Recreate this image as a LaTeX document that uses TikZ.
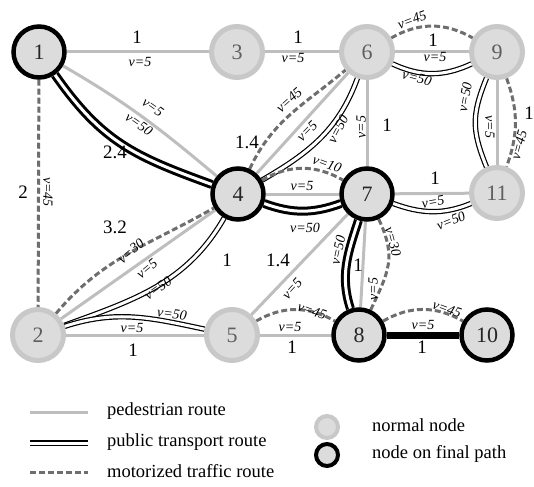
\documentclass[tikz,border=0pt]{standalone}
\usepackage{fontspec}
\setmainfont{Liberation Serif}
\usepackage{tikz}
\usetikzlibrary{backgrounds}
\definecolor{nodefill}{RGB}{220,220,220}
\definecolor{nodering}{RGB}{200,200,200}
\definecolor{pedgray}{RGB}{190,190,190}
\definecolor{motorgray}{RGB}{110,110,110}
\definecolor{numgray}{RGB}{95,95,95}

\begin{document}
\begin{tikzpicture}[x=1pt, y=1pt]
	\tikzstyle{every node} = [inner sep = 0pt]
	\tikzstyle{normalnode} = [circle, draw = nodering, fill = nodefill, line width = 5pt, minimum size = 51pt, text = numgray, font = \fontsize{22}{22}\selectfont]
	\tikzstyle{finalnode} = [normalnode, draw = black, line width = 4.5pt, text = black!85]
	\tikzstyle{ped} = [draw = pedgray, line width = 3pt]
	\tikzstyle{pedfinal} = [draw = black, line width = 7pt]
	\tikzstyle{transit} = [draw = black, line width = 1.2pt, double = white, double distance = 3pt]
	\tikzstyle{transitfinal} = [draw = black, line width = 3pt, double = white, double distance = 3pt]
	\tikzstyle{motor} = [draw = motorgray, line width = 3pt, dash pattern = on 6pt off 3pt]
	\tikzstyle{wlab} = [font = \fontsize{19}{19}\selectfont]
	\tikzstyle{vlab} = [font = \fontsize{14}{14}\selectfont\itshape]
	\tikzstyle{leglab} = [anchor = west, font = \fontsize{18.5}{18.5}\selectfont]
	\useasboundingbox (0,0) rectangle (534,-486);
\node[finalnode] (1) at (39,-52) {1};
\node[normalnode] (3) at (237,-52) {3};
\node[normalnode] (6) at (367,-52) {6};
\node[normalnode] (9) at (497,-52) {9};
\node[finalnode] (4) at (238,-194) {4};
\node[finalnode] (7) at (367,-194) {7};
\node[normalnode] (11) at (497,-193) {11};
\node[normalnode] (2) at (38,-335) {2};
\node[normalnode] (5) at (232,-335) {5};
\node[finalnode] (8) at (359,-335) {8};
\node[finalnode] (10) at (487,-335) {10};
	\begin{pgfonlayer}{background}
	% pedestrian
	\path[ped] (1) -- (3);
	\path[ped] (3) -- (6);
	\path[ped] (6) -- (9);
	\path[ped] (1) to[out=-30, in=140] (4);
	\path[ped] (4) -- (6);
	\path[ped] (6) -- (7);
	\path[ped] (9) -- (11);
	\path[ped] (4) -- (7);
	\path[ped] (7) -- (11);
	\path[ped] (7) -- (8);
	\path[ped] (2) -- (4);
	\path[ped] (5) -- (7);
	\path[ped] (2) -- (5);
	\path[ped] (5) -- (8);
	\path[pedfinal] (8) -- (10);
	% public transport
	\path[transitfinal] (1) to[out=-55, in=160, looseness=1.1] (4);
	\path[transit] (4) to[out=30, in=-110] (6);
	\path[transit] (6) to[out=-25, in=-155] (9);
	\path[transit] (9) to[out=-112, in=112, looseness=1.15] (11);
	\path[transitfinal] (4) to[out=-20, in=-160] (7);
	\path[transit] (7) to[out=-20, in=-158] (11);
	\path[transitfinal] (7) to[out=-108, in=108] (8);
	\path[transit] (2) to[out=20, in=-120] (4);
	\path[transit] (2) to[out=18, in=168] (5);
	% motorized
	\path[motor] (1) -- (2);
	\path[motor] (4) to[out=65, in=-140] (6);
	\path[motor] (6) to[out=30, in=150] (9);
	\path[motor] (9) to[out=-70, in=70] (11);
	\path[motor] (4) to[out=30, in=150] (7);
	\path[motor] (7) to[out=-65, in=65, looseness=1.2] (8);
	\path[motor] (2) to[out=50, in=-150] (4);
	\path[motor] (5) to[out=30, in=150] (8);
	\path[motor] (8) to[out=30, in=150] (10);
	\end{pgfonlayer}
 % weights
 \node[wlab] (w13) at (137,-37) {1};
 \node[wlab] (w36) at (298,-37) {1};
 \node[wlab] (w69) at (433,-40) {1};
 \node[wlab] (w911) at (529,-113) {1};
 \node[wlab] (w67) at (387,-125) {1};
 \node[wlab] (w46) at (247,-142) {1.4};
 \node[wlab] (w14) at (115,-152) {2.4};
 \node[wlab] (w711) at (435,-178) {1};
 \node[wlab] (w12) at (23,-192) {2};
 \node[wlab] (w24) at (115,-227) {3.2};
 \node[wlab] (w45) at (227,-260) {1};
 \node[wlab] (w57) at (278,-260) {1.4};
 \node[wlab] (w78) at (358,-265) {1};
 \node[wlab] (w25) at (133,-350) {1};
 \node[wlab] (w58) at (292,-347) {1};
 \node[wlab] (w810) at (422,-347) {1};
 % speeds
 \node[vlab] (v13) at (140,-62) {v=5};
 \node[vlab] (v36) at (293,-58) {v=5};
 \node[vlab] (v69a) at (435,-57) {v=5};
 \node[vlab, rotate=20] (v69b) at (412,-20) {v=45};
 \node[vlab, rotate=-15] (v69c) at (417,-78) {v=50};
 \node[vlab, rotate=80] (v911a) at (465,-97) {v=50};
 \node[vlab, rotate=-90] (v911b) at (490,-127) {v=5};
 \node[vlab, rotate=75] (v911c) at (519,-145) {v=45};
 \node[vlab, rotate=-35] (v14a) at (153,-107) {v=5};
 \node[vlab, rotate=-35] (v14b) at (139,-124) {v=50};
 \node[vlab, rotate=42] (v46a) at (289,-100) {v=45};
 \node[vlab, rotate=45] (v46b) at (307,-131) {v=5};
 \node[vlab, rotate=62] (v46c) at (338,-129) {v=50};
 \node[vlab, rotate=90] (v67) at (361,-127) {v=5};
 \node[vlab, rotate=-20] (v47a) at (327,-164) {v=10};
 \node[vlab] (v47b) at (302,-186) {v=5};
 \node[vlab] (v47c) at (305,-228) {v=50};
 \node[vlab, rotate=10] (v711a) at (433,-202) {v=5};
 \node[vlab, rotate=22] (v711b) at (451,-221) {v=50};
 \node[vlab, rotate=-90] (v12) at (48,-192) {v=45};
 \node[vlab, rotate=40] (v24a) at (131,-251) {v=30};
 \node[vlab, rotate=40] (v24b) at (147,-269) {v=5};
 \node[vlab, rotate=35] (v24c) at (158,-288) {v=50};
 \node[vlab, rotate=78] (v78a) at (338,-250) {v=50};
 \node[vlab, rotate=-75] (v78b) at (393,-242) {v=30};
 \node[vlab, rotate=90] (v78c) at (373,-289) {v=5};
 \node[vlab, rotate=48] (v57) at (292,-289) {v=5};
 \node[vlab, rotate=-8] (v25a) at (172,-314) {v=50};
 \node[vlab] (v25b) at (132,-328) {v=5};
 \node[vlab, rotate=-20] (v58a) at (312,-311) {v=45};
 \node[vlab] (v58b) at (290,-327) {v=5};
 \node[vlab, rotate=-20] (v810a) at (447,-309) {v=45};
 \node[vlab] (v810b) at (423,-325) {v=5};
 % legend
 \coordinate (a1) at (30,-412);
 \coordinate (a2) at (88,-412);
 \coordinate (b1) at (30,-443);
 \coordinate (b2) at (88,-443);
 \coordinate (c1) at (30,-472);
 \coordinate (c2) at (88,-472);
	\path[ped] (a1) -- (a2);
	\path[transit] (b1) -- (b2);
	\path[motor] (c1) -- (c2);
 \node[leglab] (t1) at (107,-411) {pedestrian route};
 \node[leglab] (t2) at (107,-442) {public transport route};
 \node[leglab] (t3) at (107,-471) {motorized traffic route};
 \node[normalnode, minimum size=22pt, line width=4pt] (n0) at (327,-427) {};
 \node[finalnode, minimum size=22pt, line width=4pt] (f0) at (327,-455) {};
 \node[leglab] (t4) at (372,-425) {normal node};
 \node[leglab] (t5) at (372,-454) {node on final path};
\end{tikzpicture}
\end{document}
